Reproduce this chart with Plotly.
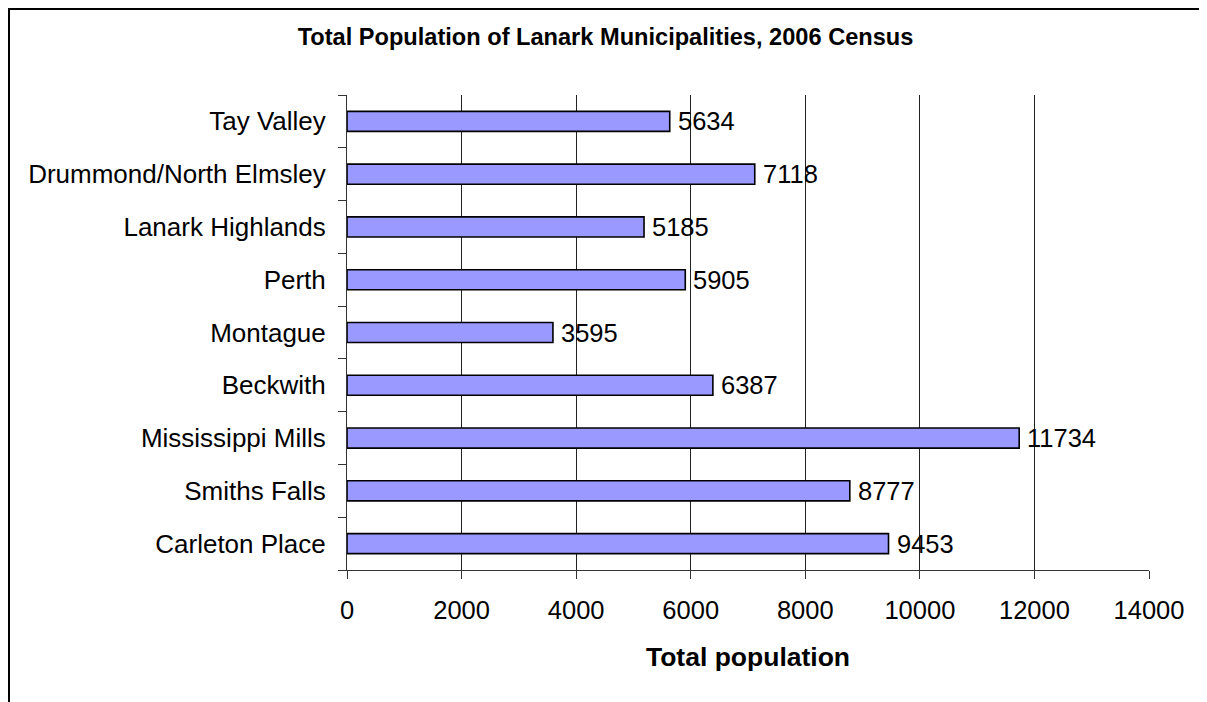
import plotly.graph_objects as go

categories = ["Carleton Place", "Smiths Falls", "Mississippi Mills", "Beckwith",
              "Montague", "Perth", "Lanark Highlands", "Drummond/North Elmsley", "Tay Valley"]
population = [9453, 8777, 11734, 6387, 3595, 5905, 5185, 7118, 5634]
x_ticks = [0, 2000, 4000, 6000, 8000, 10000, 12000, 14000]

FONT = "Arial, Liberation Sans, sans-serif"
# page has an 8px body margin; figure coordinates are page coordinates minus 8
W, H = 1199, 694
L, R, T, B = 339, 58, 87, 132
pw, ph = W - L - R, H - T - B

fig = go.Figure()
fig.add_trace(go.Bar(
    y=categories, x=population, orientation="h",
    marker=dict(color="#9999FF", line=dict(color="black", width=1.6)),
    width=0.38, showlegend=False, hoverinfo="skip",
))

for c, v in zip(categories, population):
    fig.add_annotation(x=v, y=c, text=str(v), showarrow=False, xanchor="left",
                       xshift=6, yshift=0, font=dict(family=FONT, size=25.5, color="black"))

def px2paper_x(px):
    return (px - L) / pw

def px2paper_y(py):
    return (H - B - py) / ph

fig.add_shape(type="rect", xref="paper", yref="paper",
              x0=px2paper_x(1), x1=px2paper_x(1198), y0=px2paper_y(760), y1=px2paper_y(1),
              line=dict(color="black", width=2), fillcolor="rgba(0,0,0,0)", layer="above")

fig.update_layout(
    width=W, height=H,
    margin=dict(l=L, r=R, t=T, b=B, autoexpand=False),
    paper_bgcolor="white", plot_bgcolor="white",
    font=dict(family=FONT, color="black"),
    title=dict(text="<b>Total Population of Lanark Municipalities, 2006 Census</b>",
               font=dict(family=FONT, size=23.6, color="black"),
               x=597.5 / W, xanchor="center", xref="container",
               y=1 - 29 / H, yanchor="middle", yref="container"),
    bargap=0.62,
    xaxis=dict(range=[0, 14000], tickvals=x_ticks, ticktext=[str(t) for t in x_ticks],
               showgrid=True, gridcolor="#222222", gridwidth=1, zeroline=False,
               showline=True, linecolor="#333333", linewidth=1,
               ticks="outside", ticklen=8, tickcolor="#333333", ticklabelstandoff=9,
               tickfont=dict(family=FONT, size=25.5, color="black"),
               title=dict(text="<b>Total population</b>", standoff=24,
                          font=dict(family=FONT, size=26.5, color="black"))),
    yaxis=dict(type="category", categoryorder="array", categoryarray=categories,
               showgrid=False, zeroline=False, showline=True, linecolor="#333333", linewidth=1,
               ticks="outside", ticklen=8, tickcolor="#333333", tickson="boundaries",
               ticklabelstandoff=15,
               tickfont=dict(family=FONT, size=26, color="black")),
)

fig.write_html("out.html")
